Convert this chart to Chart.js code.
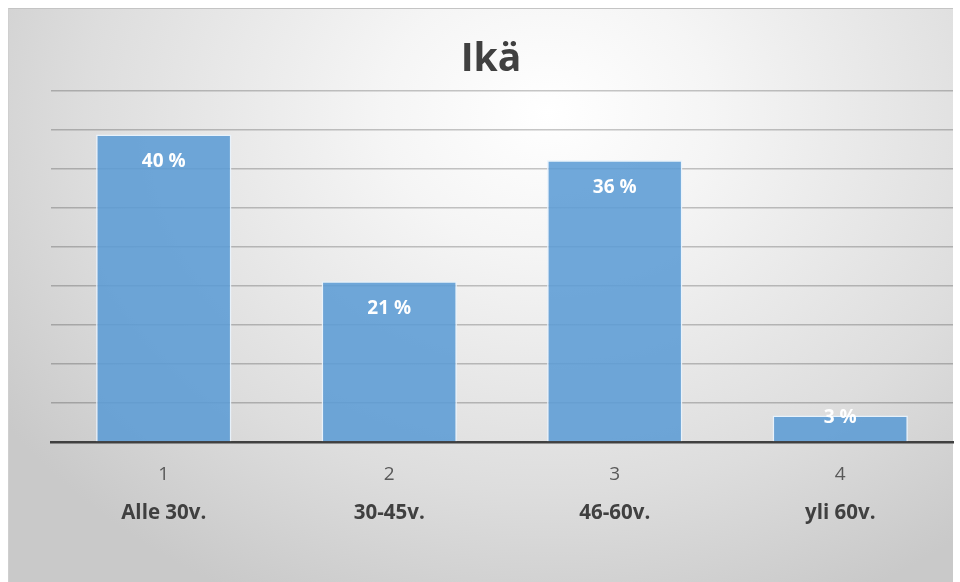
<!DOCTYPE html>
<html lang="fi">
<head>
    <meta charset="UTF-8">
    <title>Ikä</title>
    <script src="https://cdn.jsdelivr.net/npm/chart.js"></script>
    <style>
        body {
            margin: 0;
            background: #ffffff;
            font-family: "Open Sans", Arial, sans-serif;
        }
        #frame {
            position: absolute;
            left: 8px;
            top: 8px;
            width: 945px;
            height: 574px;
            border-top: 1px solid #c4c4c4;
            border-left: 1px solid #cfcfcf;
            box-sizing: border-box;
            background: radial-gradient(ellipse 70% 95% at 57% 18%, #ffffff 0%, #f5f5f5 25%, #dddddd 70%, #c9c9c9 100%);
        }
        #chart-box {
            position: absolute;
            left: 0;
            top: 0;
            width: 945px;
            height: 574px;
        }
    </style>
</head>
<body>
    <div id="frame">
        <div id="chart-box"><canvas id="ageChart"></canvas></div>
    </div>

    <script>
        // data
        const numbers = ['1', '2', '3', '4'];
        const ageGroups = ['Alle 30v.', '30-45v.', '46-60v.', 'yli 60v.'];
        const shares = [39.4, 20.6, 36.1, 3.4];
        const shareLabels = ['40 %', '21 %', '36 %', '3 %'];

        // white percentage labels inside the bars
        const barLabels = {
            id: 'barLabels',
            afterDatasetsDraw(chart) {
                const ctx = chart.ctx;
                const meta = chart.getDatasetMeta(0);
                ctx.save();
                ctx.fillStyle = '#ffffff';
                ctx.font = 'bold 19px "Open Sans"';
                ctx.textAlign = 'center';
                ctx.textBaseline = 'middle';
                meta.data.forEach((bar, i) => {
                    const h = bar.base - bar.y;
                    const y = h > 60 ? bar.y + 27 : bar.y + 2;
                    ctx.fillText(shareLabels[i], bar.x, y);
                });
                ctx.restore();
            }
        };

        const ctx = document.getElementById('ageChart').getContext('2d');
        new Chart(ctx, {
            type: 'bar',
            data: {
                labels: numbers,
                datasets: [{
                    data: shares,
                    backgroundColor: 'rgba(91,155,213,0.87)',
                    borderColor: 'rgba(232,242,252,0.95)',
                    borderWidth: 1.5,
                    barPercentage: 0.6,
                    categoryPercentage: 1
                }]
            },
            options: {
                responsive: true,
                maintainAspectRatio: false,
                animation: false,
                layout: { padding: { left: 20, right: 1, top: 0, bottom: 42 } },
                plugins: {
                    legend: { display: false },
                    tooltip: { enabled: false },
                    title: {
                        display: true,
                        text: 'Ikä',
                        color: '#404040',
                        font: { family: 'Open Sans', size: 39, weight: 'bold', lineHeight: 1.2 },
                        padding: { top: 27, bottom: 8 }
                    }
                },
                scales: {
                    x: {
                        z: 1,
                        weight: 0,
                        grid: { display: false, drawTicks: false },
                        border: { display: true, color: '#404040', width: 2.5 },
                        ticks: {
                            color: '#595959',
                            padding: 21,
                            font: { family: 'Open Sans', size: 19 }
                        },
                        afterFit(scale) { scale.height = 59; }
                    },
                    x2: {
                        type: 'category',
                        position: 'bottom',
                        weight: 1,
                        labels: ageGroups,
                        grid: { display: false, drawTicks: false },
                        border: { display: false },
                        ticks: {
                            color: '#404040',
                            padding: 0,
                            font: { family: 'Open Sans', size: 20.5, weight: 'bold' }
                        },
                        afterFit(scale) { scale.height = 40; }
                    },
                    y: {
                        min: 0,
                        max: 45,
                        ticks: { display: false, stepSize: 5 },
                        border: { display: false },
                        grid: {
                            drawTicks: false,
                            lineWidth: 1.5,
                            color: c => c.tick.value === 0 ? 'rgba(0,0,0,0)' : 'rgba(0,0,0,0.22)'
                        },
                        afterFit(scale) { scale.width = 22; }
                    }
                }
            },
            plugins: [barLabels]
        });
    </script>
</body>
</html>
